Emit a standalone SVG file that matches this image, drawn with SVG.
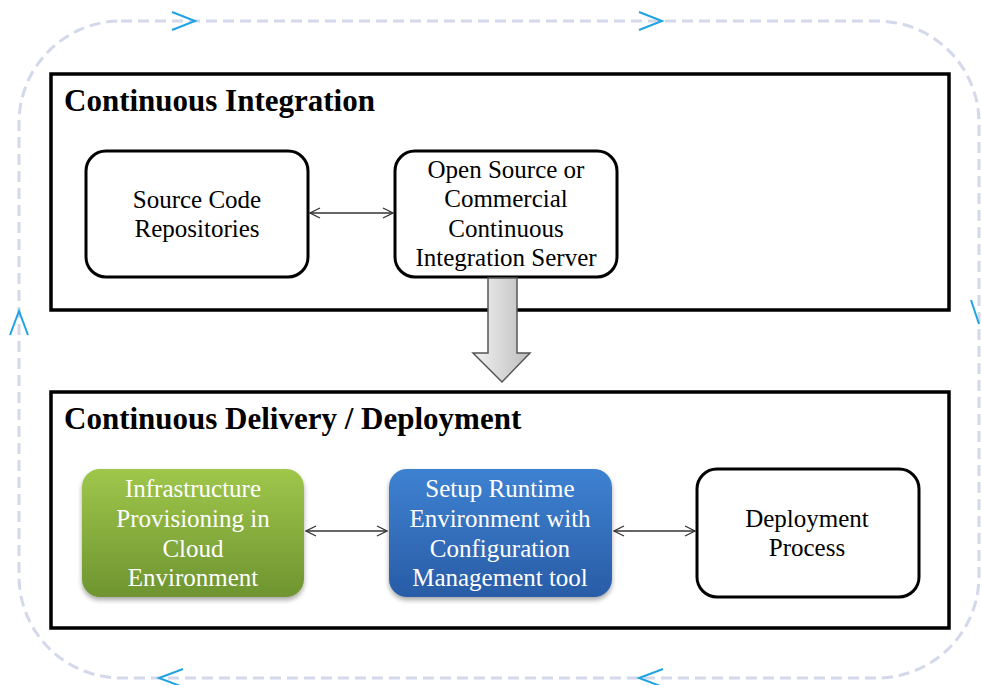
<svg xmlns="http://www.w3.org/2000/svg" width="982" height="685" viewBox="0 0 982 685">
<defs>
<style>
.loop{fill:none;stroke:#d3d8ea;stroke-width:3;stroke-dasharray:11 6}
.chev{fill:none;stroke:#1fa3e3;stroke-width:2}
.frame{fill:#fff;stroke:#000;stroke-width:3.5}
.title{font-family:"Liberation Serif","Times New Roman",serif;font-weight:bold;font-size:31px;fill:#000}
.node{fill:#fff;stroke:#000;stroke-width:3}
.t{font-family:"Liberation Serif","Times New Roman",serif;font-size:25px;fill:#000;text-anchor:middle}
.tw{font-family:"Liberation Serif","Times New Roman",serif;font-size:25px;fill:#fff;text-anchor:middle}
.conn{stroke:#333;stroke-width:1.3;fill:none;marker-start:url(#ah);marker-end:url(#ah)}
</style>
<marker id="ah" viewBox="0 0 12 12" refX="11" refY="6" markerWidth="12" markerHeight="12" markerUnits="userSpaceOnUse" orient="auto-start-reverse">
<path d="M1,1 L11,6 L1,11" fill="none" stroke="#333" stroke-width="1.3"/>
</marker>
<linearGradient id="gGreen" x1="0" y1="0" x2="0" y2="1">
<stop offset="0" stop-color="#9fc74b"/><stop offset="1" stop-color="#6e9430"/>
</linearGradient>
<linearGradient id="gBlue" x1="0" y1="0" x2="0" y2="1">
<stop offset="0" stop-color="#3e82d2"/><stop offset="1" stop-color="#295ca6"/>
</linearGradient>
<linearGradient id="gArrow" x1="0" y1="0" x2="1" y2="0">
<stop offset="0" stop-color="#f2f2f2"/><stop offset="1" stop-color="#bdbdbd"/>
</linearGradient>
<filter id="sh" x="-10%" y="-10%" width="120%" height="130%">
<feGaussianBlur in="SourceAlpha" stdDeviation="2.5"/>
<feOffset dy="3"/>
<feComponentTransfer><feFuncA type="linear" slope="0.35"/></feComponentTransfer>
<feMerge><feMergeNode/><feMergeNode in="SourceGraphic"/></feMerge>
</filter>
</defs>
<rect width="982" height="685" fill="#fff"/>
<g id="loop">
<rect class="loop" x="19" y="21" width="960" height="657" rx="102" ry="102"/>
<path class="chev" d="M172,12 L195,21 L172,30"/>
<path class="chev" d="M639,12 L662,21 L639,30"/>
<path class="chev" d="M10,335 L19,311 L28,335"/>
<path class="chev" d="M971,300 L979,324"/>
<path class="chev" d="M183,669 L159,678 L183,687"/>
<path class="chev" d="M663,669 L639,678 L663,687"/>
</g>
<g id="ci">
<rect class="frame" x="51" y="74" width="898" height="236"/>
<text class="title" x="64" y="111">Continuous Integration</text>
</g>
<g id="cd">
<rect class="frame" x="51" y="392" width="898" height="236"/>
<text class="title" x="64" y="429">Continuous Delivery / Deployment</text>
</g>
<g id="src">
<rect class="node" x="86" y="151" width="222" height="126" rx="20"/>
<text class="t" x="197" y="208">Source Code</text>
<text class="t" x="197" y="237">Repositories</text>
</g>
<g id="ciserver">
<rect class="node" x="395" y="151" width="222" height="126" rx="20"/>
<text class="t" x="506" y="178">Open Source or</text>
<text class="t" x="506" y="207">Commercial</text>
<text class="t" x="506" y="237">Continuous</text>
<text class="t" x="506" y="266">Integration Server</text>
</g>
<g id="infra">
<rect x="82" y="469" width="222" height="128" rx="18" fill="url(#gGreen)" filter="url(#sh)"/>
<text class="tw" x="193" y="497">Infrastructure</text>
<text class="tw" x="193" y="527">Provisioning in</text>
<text class="tw" x="193" y="557">Cloud</text>
<text class="tw" x="193" y="586">Environment</text>
</g>
<g id="setup">
<rect x="389" y="469" width="223" height="128" rx="18" fill="url(#gBlue)" filter="url(#sh)"/>
<text class="tw" x="500" y="497">Setup Runtime</text>
<text class="tw" x="500" y="527">Environment with</text>
<text class="tw" x="500" y="557">Configuration</text>
<text class="tw" x="500" y="586">Management tool</text>
</g>
<g id="deploy">
<rect class="node" x="697" y="469" width="222" height="128" rx="20"/>
<text class="t" x="807" y="527">Deployment</text>
<text class="t" x="807" y="556">Process</text>
</g>
<g id="connectors">
<line class="conn" x1="310" y1="213" x2="393" y2="213"/>
<line class="conn" x1="306" y1="531" x2="387" y2="531"/>
<line class="conn" x1="614" y1="531" x2="695" y2="531"/>
<path d="M488,278 L517,278 L517,353 L530,353 L502,382 L473,353 L488,353 Z" fill="url(#gArrow)" stroke="#555" stroke-width="1.5"/>
</g>
</svg>
